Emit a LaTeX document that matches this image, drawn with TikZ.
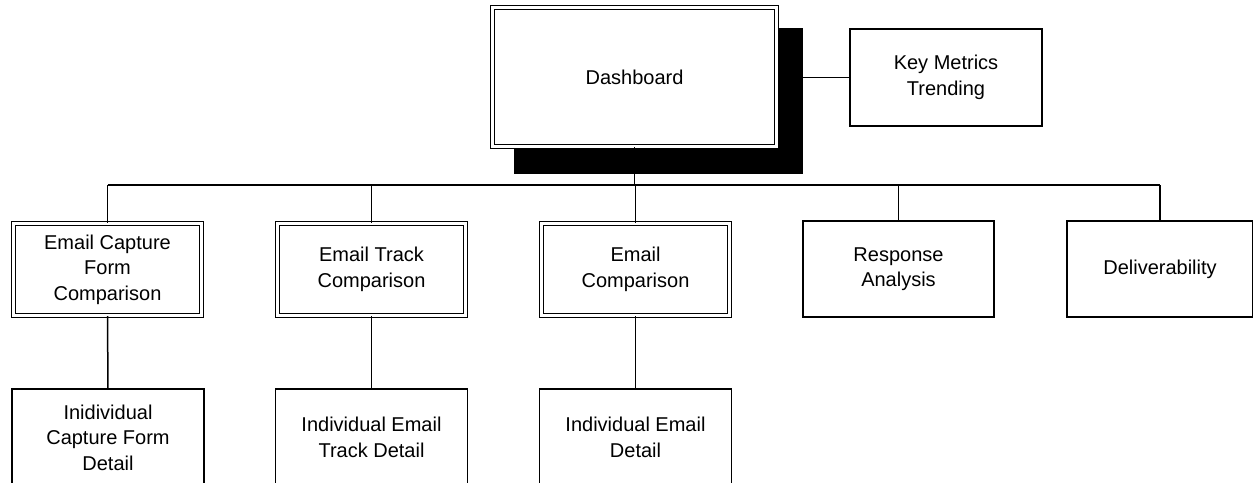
\documentclass[tikz,border=0pt]{standalone}
\usepackage{fontspec}
\setmainfont{Liberation Sans}
\begin{document}
\begin{tikzpicture}[x=1pt, y=-1pt,
  box/.style={draw, line width=1.5pt, fill=white, inner sep=0pt, align=center,
    font=\fontsize{20}{25.5}\selectfont},
  dbox/.style={box, line width=1.4pt, double, double distance=2.4pt},
  link/.style={line width=1.5pt}]
\path[use as bounding box, clip] (0,0) rectangle (1253,482);

% drop shadow of the top node
\fill (514,28) rectangle (803,174);

% nodes
\node[dbox, minimum width=284pt, minimum height=139pt] (dash) at (634.5,77) {Dashboard};
\node[box, minimum width=192pt, minimum height=97pt] (kmt) at (946,77.5) {Key Metrics\\Trending};

\node[dbox, minimum width=188pt, minimum height=92pt] (ecf) at (107.5,269.5) {Email Capture\\Form\\Comparison};
\node[dbox, minimum width=188pt, minimum height=92pt] (etc) at (371.5,269.5) {Email Track\\Comparison};
\node[dbox, minimum width=188pt, minimum height=92pt] (ec) at (635.5,269.5) {Email\\Comparison};
\node[box, minimum width=191pt, minimum height=96pt] (ra) at (898.5,269) {Response\\Analysis};
\node[box, minimum width=186pt, minimum height=96pt] (dl) at (1160,269) {Deliverability};

\node[box, minimum width=192pt, minimum height=97pt] (icf) at (108,437.5) {Inidividual\\Capture Form\\Detail};
\node[box, minimum width=192pt, minimum height=97pt] (iet) at (371.5,437.5) {Individual Email\\Track Detail};
\node[box, minimum width=192pt, minimum height=97pt] (ied) at (635.5,437.5) {Individual Email\\Detail};

% connectors
\coordinate (busL) at (107.5,185);
\coordinate (busR) at (1160,185);
\draw[link] (busL) -- (busR);
\draw[link] (dash.south) -- (dash.south |- busL);
\draw[link] (kmt.west) -- (kmt.west -| 803,0);
\foreach \n in {ecf,etc,ec,ra,dl}
  \draw[link] (\n.north) -- (\n.north |- busL);
\draw[link] (ecf.south) -- (icf.north);
\draw[link] (etc.south) -- (iet.north);
\draw[link] (ec.south) -- (ied.north);
\end{tikzpicture}
\end{document}
